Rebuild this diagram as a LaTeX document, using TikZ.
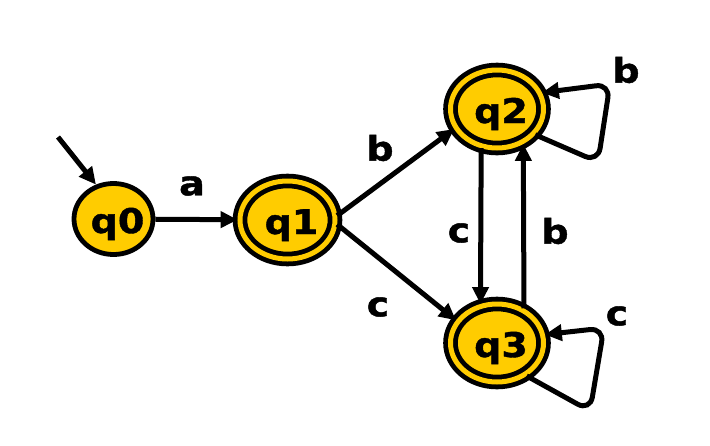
\documentclass[tikz,border=0pt]{standalone}
\usepackage{fontspec}
\newfontfamily\lblfont{DejaVu Sans}[FakeStretch=1.12,FakeBold=1.2]
\usetikzlibrary{arrows.meta,shapes.geometric}
\definecolor{stateyellow}{HTML}{FFCC00}
\newcommand\stxt[1]{\makebox[0pt]{\hspace{8pt}#1}}
\tikzset{
  lbl/.style={font=\lblfont\bfseries\fontsize{34}{36}\selectfont, inner sep=0pt},
  state/.style={ellipse, draw=black, fill=stateyellow, line width=4.8pt,
    minimum width=79pt, minimum height=71pt, inner sep=0pt,
    font=\lblfont\bfseries\fontsize{34}{36}\selectfont,
    text height=35pt, text depth=7pt},
  accepting/.style={double=stateyellow, double distance=5pt,
    minimum width=93pt, minimum height=78pt},
  edge/.style={line width=5pt, -{Triangle[length=17pt,width=16pt]}},
}
\begin{document}
\begin{tikzpicture}[x=1pt,y=-1pt]
\useasboundingbox (0,0) rectangle (710,445);
% states
\node[state] (q0) at (113.5,219) {\stxt{q0}};
\node[state,accepting,minimum width=95pt] (q1) at (287.5,220) {\stxt{q1}};
\node[state,accepting] (q2) at (497,109) {\stxt{q2}};
\node[state,accepting] (q3) at (497,343) {\stxt{q3}};
% initial arrow
\coordinate (init) at (58,137);
\draw[edge] (init) -- (q0.117);
% transitions
\draw[edge] (q0) -- (q1);
\draw[edge] (q1.5) -- (q2.-155);
\draw[edge] (q1.-5) -- (q3.151);
\draw[edge] (q2.-112) -- (q3.113);
\draw[edge] (q3.52) -- (q2.-53);
\draw[edge, rounded corners=14pt] (q2.-34) -- (598,162) -- (610,84) -- (q2.20);
\draw[edge, rounded corners=14pt] (q3.-48) -- (590,411) -- (604,328) -- (q3.10);
% labels
\node[lbl] (la) at (192,186) {a};
\node[lbl] (lb1) at (380,148) {b};
\node[lbl] (lc1) at (378,307) {c};
\node[lbl] (lc2) at (459,233) {c};
\node[lbl] (lb2) at (555,231) {b};
\node[lbl] (lb3) at (626,70) {b};
\node[lbl] (lc3) at (617,316) {c};
\end{tikzpicture}
\end{document}
